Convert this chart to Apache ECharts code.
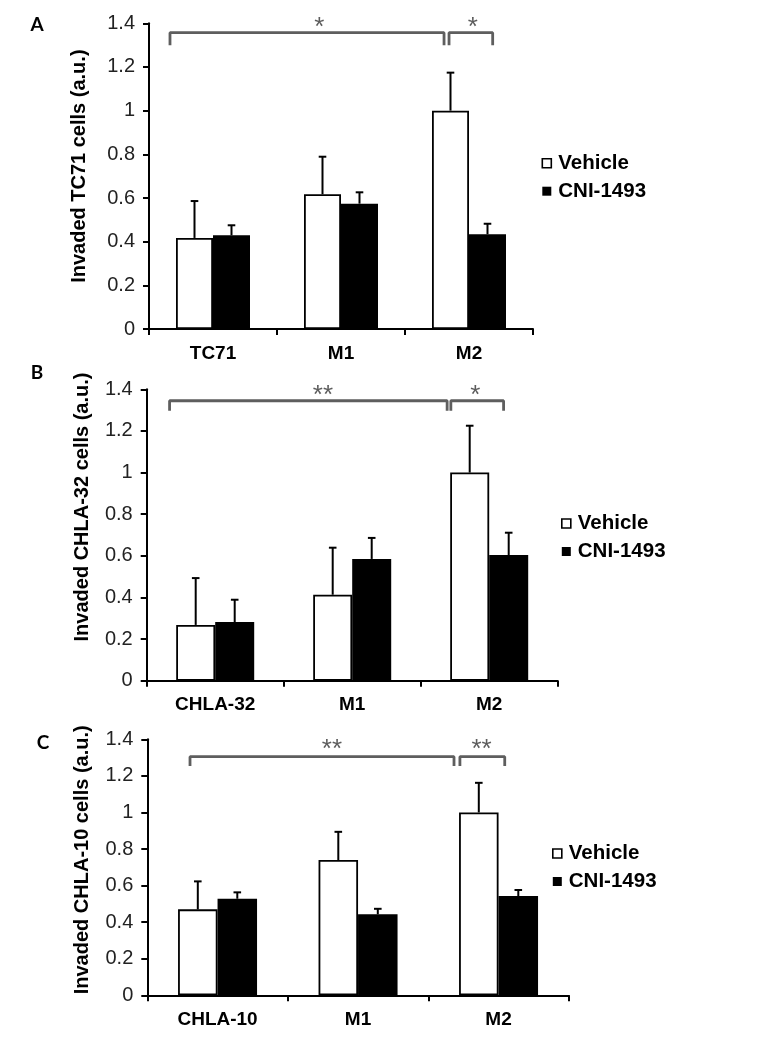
<!DOCTYPE html>
<html>
<head>
<meta charset="utf-8">
<script src="https://cdn.jsdelivr.net/npm/echarts@6/dist/echarts.min.js"></script>
<style>html,body{margin:0;padding:0;background:#fff;}#c{width:780px;height:1040px;}</style>
</head>
<body>
<div id="c"></div>
<script>
// ---------- data ----------
const categoriesA = ['TC71', 'M1', 'M2'];
const vehicleA = [0.417, 0.617, 1.0];
const vehicleErrA = [0.169, 0.172, 0.174];
const cniA = [0.429, 0.574, 0.434];
const cniErrA = [0.046, 0.052, 0.048];

const categoriesB = ['CHLA-32', 'M1', 'M2'];
const vehicleB = [0.268, 0.413, 1.0];
const vehicleErrB = [0.225, 0.226, 0.225];
const cniB = [0.282, 0.585, 0.604];
const cniErrB = [0.107, 0.101, 0.107];

const categoriesC = ['CHLA-10', 'M1', 'M2'];
const vehicleC = [0.470, 0.740, 1.0];
const vehicleErrC = [0.153, 0.154, 0.162];
const cniC = [0.528, 0.443, 0.543];
const cniErrC = [0.035, 0.030, 0.033];

const seriesNames = ['Vehicle', 'CNI-1493'];
const yAxisNames = ['Invaded TC71 cells (a.u.)', 'Invaded CHLA-32 cells (a.u.)', 'Invaded CHLA-10 cells (a.u.)'];
const panelLetters = ['A', 'B', 'C'];
// significance brackets: [from (category units), to, height (value), label]
const sigA = [[-0.336, 1.805, 1.357, '*'], [1.844, 2.185, 1.357, '*']];
const sigB = [[-0.333, 1.693, 1.345, '**'], [1.72, 2.105, 1.345, '*']];
const sigC = [[-0.196, 1.683, 1.305, '**'], [1.725, 2.044, 1.305, '**']];
const starXA = [0.83, 2.03];
const starXB = [0.786, 1.898];
const starXC = [0.814, 1.879];

// ---------- layout ----------
const panels = [
  {cats: categoriesA, veh: vehicleA, vehErr: vehicleErrA, cni: cniA, cniErr: cniErrA, sig: sigA, starX: starXA,
   grid: {left: 149, top: 23.3, width: 384, height: 305.7}, barW: 37, leg: 0.057, starY: 1.40,
   nameGap: 60, namePad: 20, legend: {left: 541.5, top: 152.7}, letter: [37, 25]},
  {cats: categoriesB, veh: vehicleB, vehErr: vehicleErrB, cni: cniB, cniErr: cniErrB, sig: sigB, starX: starXB,
   grid: {left: 146.7, top: 389.3, width: 411, height: 291.4}, barW: 39, leg: 0.048, starY: 1.393,
   nameGap: 54, namePad: 56, legend: {left: 561, top: 513}, letter: [37, 373]},
  {cats: categoriesC, veh: vehicleC, vehErr: vehicleErrC, cni: cniC, cniErr: cniErrC, sig: sigC, starX: starXC,
   grid: {left: 147.3, top: 739.3, width: 421.5, height: 256}, barW: 39.5, leg: 0.051, starY: 1.369,
   nameGap: 54.7, namePad: 15, legend: {left: 552, top: 843}, letter: [43, 743]}
];

const FONT = '"Liberation Sans", Arial, sans-serif';
const grids = [], xAxes = [], yAxes = [], series = [], legends = [], graphics = [];

function errRender(offsetSign, barW) {
  return function (params, api) {
    const x = api.value(0), v = api.value(1), e = api.value(2);
    const p0 = api.coord([x, v]);
    const p1 = api.coord([x, v + e]);
    const cx = p0[0] + offsetSign * barW / 2;
    const st = {stroke: '#000', lineWidth: 2};
    return {type: 'group', children: [
      {type: 'line', shape: {x1: cx, y1: p0[1], x2: cx, y2: p1[1]}, style: st},
      {type: 'line', shape: {x1: cx - 3.8, y1: p1[1], x2: cx + 3.8, y2: p1[1]}, style: st}
    ]};
  };
}

panels.forEach((p, i) => {
  grids.push(Object.assign({containLabel: false}, p.grid));
  xAxes.push({
    type: 'category', gridIndex: i, data: p.cats, boundaryGap: true,
    axisLine: {onZero: false, lineStyle: {color: '#000', width: 2}},
    axisTick: {show: true, length: 6, lineStyle: {color: '#000', width: 2}},
    axisLabel: {color: '#000', fontFamily: FONT, fontWeight: 'bold', fontSize: 19, margin: 15},
    splitLine: {show: false}
  });
  yAxes.push({
    type: 'value', gridIndex: i, min: 0, max: 1.4, interval: 0.2, position: 'left',
    name: yAxisNames[i], nameLocation: 'middle', nameGap: p.nameGap,
    nameTextStyle: {color: '#000', fontFamily: FONT, fontWeight: 'bold', fontSize: 20, padding: [0, 0, 0, p.namePad]},
    axisLine: {show: true, onZero: false, lineStyle: {color: '#000', width: 2}},
    axisTick: {show: true, length: 6, lineStyle: {color: '#000', width: 2}},
    axisLabel: {color: '#222', fontFamily: FONT, fontSize: 20, margin: 14},
    splitLine: {show: false}
  });
});
// hidden value x-axes (same grids) for annotation brackets
panels.forEach((p, i) => {
  xAxes.push({type: 'value', gridIndex: i, min: -0.5, max: 2.5, show: false,
              axisLine: {onZero: false}});
});

panels.forEach((p, i) => {
  series.push({
    name: seriesNames[0], type: 'bar', xAxisIndex: i, yAxisIndex: i, data: p.veh,
    barWidth: p.barW, barGap: '0%',
    itemStyle: {color: '#fff', borderColor: '#000', borderWidth: 1.8}, z: 2
  });
  series.push({
    name: seriesNames[1], type: 'bar', xAxisIndex: i, yAxisIndex: i, data: p.cni,
    barWidth: p.barW, barGap: '0%',
    itemStyle: {color: '#000', borderColor: '#000', borderWidth: 1.8}, z: 2
  });
  series.push({
    type: 'custom', xAxisIndex: i, yAxisIndex: i, z: 3, silent: true,
    renderItem: errRender(-1, p.barW),
    data: p.veh.map((v, k) => [k, v, p.vehErr[k]])
  });
  series.push({
    type: 'custom', xAxisIndex: i, yAxisIndex: i, z: 3, silent: true,
    renderItem: errRender(1, p.barW),
    data: p.cni.map((v, k) => [k, v, p.cniErr[k]])
  });
  p.sig.forEach((s, k) => {
    series.push({
      type: 'line', xAxisIndex: panels.length + i, yAxisIndex: i, silent: true, symbol: 'none',
      lineStyle: {color: '#5e5e5e', width: 2.8}, z: 4,
      data: [[s[0], s[2] - p.leg], [s[0], s[2]], [s[1], s[2]], [s[1], s[2] - p.leg]]
    });
    series.push({
      type: 'scatter', xAxisIndex: panels.length + i, yAxisIndex: i, silent: true, symbolSize: 0, z: 5,
      data: [[p.starX[k], p.starY]],
      label: {show: true, position: 'inside', formatter: s[3], color: '#333', fontFamily: FONT,
              fontSize: 26, offset: [0, 5]}
    });
  });
  legends.push({
    orient: 'vertical', left: p.legend.left, top: p.legend.top, padding: 0,
    itemWidth: 9, itemHeight: 9, itemGap: 7, icon: 'rect',
    textStyle: {color: '#000', fontFamily: FONT, fontWeight: 'bold', fontSize: 20.5, lineHeight: 20, padding: [0, 0, 0, 2]},
    data: [
      {name: seriesNames[0], itemStyle: {color: '#fff', borderColor: '#000', borderWidth: 1.6}},
      {name: seriesNames[1], itemStyle: {color: '#000', borderWidth: 0}}
    ],
    selectedMode: false
  });
  graphics.push({
    type: 'text', x: p.letter[0], y: p.letter[1],
    style: {text: panelLetters[i], font: 'bold 19px Lato, "Open Sans", sans-serif', fill: '#000',
            textAlign: 'center', textVerticalAlign: 'middle'}
  });
});

const chart = echarts.init(document.getElementById('c'), null, {renderer: 'canvas'});
chart.setOption({
  animation: false,
  backgroundColor: '#fff',
  grid: grids, xAxis: xAxes, yAxis: yAxes, series: series, legend: legends, graphic: graphics
});
</script>
</body>
</html>
